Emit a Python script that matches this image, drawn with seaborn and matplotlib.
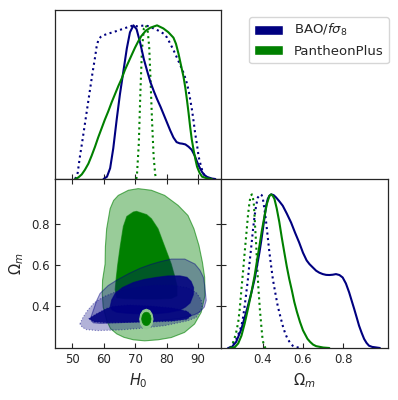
import matplotlib
matplotlib.use("Agg")
import matplotlib.pyplot as plt
from matplotlib.colors import to_rgba
from matplotlib.patches import Patch
import seaborn as sns

sns.set_style("ticks")
plt.rcParams['font.family'] = ['DejaVu Sans']
plt.rcParams['mathtext.fontset'] = 'dejavusans'

NAVY = "#000080"
GREEN = "#008000"

# ---- 1D marginals: H0 ----
bao_h0 = [60.0, 61.1, 62.1, 63.1, 64.2, 65.2, 66.3, 67.4, 68.4, 69.5, 70.5, 71.6, 72.8, 73.9, 74.9,
          76.0, 77.0, 78.1, 79.1, 80.2, 81.2, 82.2, 83.2, 84.2, 85.0, 86.0, 87.0, 88.0, 89.0, 89.7,
          90.5, 91.3, 92.1, 92.9, 94.4, 95.5]
bao_h0_p = [0.0, 0.015, 0.07, 0.2, 0.39, 0.55, 0.70, 0.85, 0.955, 1.0, 0.975, 0.89, 0.78, 0.70, 0.63,
            0.57, 0.52, 0.47, 0.42, 0.365, 0.315, 0.27, 0.24, 0.232, 0.23, 0.225, 0.21, 0.19, 0.15, 0.112,
            0.075, 0.045, 0.025, 0.013, 0.003, 0.0]

baod_h0 = [51.0, 51.8, 52.5, 53.3, 54.1, 54.9, 55.7, 56.5, 57.3, 57.8, 58.3, 59.1, 59.9, 61.5, 63.1,
           64.7, 66.3, 67.9, 69.5, 70.6, 72.0, 73.3, 74.6, 75.9, 77.5, 79.1, 80.2, 81.2, 82.2, 83.3,
           84.4, 85.5, 86.3, 87.0, 87.5, 88.1, 88.6, 89.1, 89.7, 90.2, 90.8, 91.3, 91.8, 92.3, 93.4, 94.0]
baod_h0_p = [0.0, 0.04, 0.145, 0.25, 0.36, 0.47, 0.58, 0.69, 0.79, 0.86, 0.90, 0.925, 0.935, 0.946, 0.956,
             0.967, 0.978, 0.99, 1.0, 0.994, 0.997, 1.0, 0.992, 0.98, 0.965, 0.946, 0.92, 0.88, 0.84, 0.79,
             0.74, 0.686, 0.635, 0.578, 0.52, 0.448, 0.375, 0.297, 0.22, 0.145, 0.095, 0.058, 0.03, 0.015, 0.005, 0.0]

pp_h0 = [51.0, 52.0, 53.1, 54.1, 55.2, 56.2, 57.3, 58.3, 59.4, 60.4, 61.5, 62.6, 63.7, 64.7, 65.8,
         66.8, 67.9, 69.0, 70.0, 71.0, 72.0, 73.4, 74.9, 77.0, 79.0, 80.6, 82.2, 83.0, 83.8, 84.6,
         85.4, 86.0, 86.5, 87.0, 87.5, 88.0, 88.6, 89.2, 89.7, 90.5, 91.3, 92.9, 94.4]
pp_h0_p = [0.0, 0.01, 0.03, 0.06, 0.10, 0.15, 0.21, 0.27, 0.33, 0.385, 0.44, 0.50, 0.555, 0.605, 0.655,
           0.71, 0.76, 0.81, 0.855, 0.895, 0.93, 0.965, 0.985, 1.0, 0.98, 0.955, 0.92, 0.88, 0.816, 0.74,
           0.665, 0.59, 0.513, 0.43, 0.34, 0.26, 0.188, 0.125, 0.08, 0.04, 0.015, 0.004, 0.0]

ppd_h0 = [70.4, 70.6, 71.2, 71.7, 72.2, 72.8, 73.4, 74.0, 74.5, 74.9, 75.4, 75.9, 76.4, 76.8]
ppd_h0_p = [0.0, 0.02, 0.23, 0.56, 0.84, 0.98, 1.0, 0.97, 0.86, 0.66, 0.38, 0.15, 0.03, 0.0]

# ---- 1D marginals: Omega_m ----
bao_om = [0.23, 0.247, 0.27, 0.296, 0.312, 0.328, 0.345, 0.361, 0.373, 0.385, 0.394, 0.402, 0.41, 0.418,
          0.426, 0.434, 0.443, 0.455, 0.467, 0.483, 0.50, 0.52, 0.541, 0.561, 0.581, 0.60, 0.618, 0.632,
          0.648, 0.665, 0.681, 0.698, 0.714, 0.73, 0.747, 0.763, 0.78, 0.796, 0.812, 0.828, 0.84, 0.853,
          0.865, 0.877, 0.89, 0.902, 0.914, 0.926, 0.942, 0.959, 0.98]
bao_om_p = [0.0, 0.004, 0.04, 0.124, 0.2, 0.275, 0.36, 0.449, 0.535, 0.623, 0.70, 0.774, 0.85, 0.926,
            0.97, 0.991, 1.0, 0.995, 0.98, 0.955, 0.926, 0.875, 0.817, 0.75, 0.687, 0.62, 0.57, 0.546,
            0.525, 0.503, 0.49, 0.481, 0.476, 0.475, 0.477, 0.481, 0.475, 0.459, 0.42, 0.362, 0.31, 0.254,
            0.2, 0.145, 0.098, 0.059, 0.033, 0.015, 0.007, 0.004, 0.0]

baod_om = [0.235, 0.247, 0.259, 0.271, 0.284, 0.296, 0.304, 0.312, 0.32, 0.328, 0.336, 0.345, 0.353,
           0.361, 0.369, 0.377, 0.39, 0.396, 0.402, 0.41, 0.418, 0.426, 0.434, 0.443, 0.451, 0.463,
           0.475, 0.488, 0.50, 0.512, 0.524, 0.537, 0.549, 0.561, 0.573, 0.59]
baod_om_p = [0.0, 0.01, 0.03, 0.059, 0.1, 0.145, 0.2, 0.275, 0.36, 0.449, 0.555, 0.666, 0.77, 0.86,
             0.93, 0.98, 1.0, 0.995, 0.97, 0.90, 0.818, 0.72, 0.623, 0.53, 0.449, 0.36, 0.275, 0.205,
             0.145, 0.095, 0.059, 0.033, 0.015, 0.007, 0.004, 0.0]

pp_om = [0.24, 0.263, 0.28, 0.296, 0.312, 0.328, 0.345, 0.361, 0.373, 0.385, 0.397, 0.41, 0.422, 0.434,
         0.443, 0.451, 0.459, 0.47, 0.483, 0.495, 0.508, 0.52, 0.532, 0.545, 0.557, 0.57, 0.585, 0.60,
         0.61, 0.622, 0.635, 0.65, 0.665, 0.70, 0.73]
pp_om_p = [0.0, 0.005, 0.03, 0.08, 0.16, 0.254, 0.36, 0.47, 0.57, 0.666, 0.765, 0.86, 0.94, 0.99,
           1.0, 0.99, 0.97, 0.91, 0.82, 0.72, 0.62, 0.53, 0.45, 0.375, 0.30, 0.235, 0.17, 0.115,
           0.09, 0.06, 0.04, 0.022, 0.012, 0.003, 0.0]

ppd_om = [0.24, 0.255, 0.268, 0.28, 0.288, 0.296, 0.304, 0.312, 0.32, 0.328, 0.335, 0.341, 0.348,
          0.353, 0.358, 0.363, 0.369, 0.374, 0.38, 0.387, 0.394, 0.40, 0.407, 0.415]
ppd_om_p = [0.0, 0.037, 0.09, 0.167, 0.26, 0.384, 0.5, 0.623, 0.74, 0.86, 0.94, 0.99, 1.0,
            0.975, 0.926, 0.80, 0.666, 0.52, 0.384, 0.25, 0.145, 0.06, 0.015, 0.0]

# ---- 2D contour outlines (H0, Omega_m) ----
pp_outer_h0 = [71.0, 75.2, 79.4, 83.7, 86.8, 88.7, 90.3, 91.4, 92.1, 92.2, 91.0, 88.9, 85.7, 81.5, 77.3,
               73.1, 69.5, 66.5, 64.2, 62.2, 61.0, 59.9, 59.6, 59.7, 60.5, 60.6, 61.0, 62.1, 63.2, 64.7, 67.9]
pp_outer_om = [0.973, 0.965, 0.94, 0.891, 0.842, 0.777, 0.695, 0.613, 0.54, 0.451, 0.369, 0.312, 0.271,
               0.246, 0.235, 0.23, 0.235, 0.247, 0.264, 0.29, 0.33, 0.395, 0.46, 0.526, 0.605, 0.69,
               0.777, 0.875, 0.915, 0.94, 0.965]
pp_inner_h0 = [70.5, 73.7, 75.2, 77.3, 78.9, 80.5, 81.5, 82.5, 83.3, 83.3, 81.5, 77.0, 72.0, 67.0,
               64.2, 63.7, 64.0, 64.5, 65.3, 66.3, 67.4, 69.5]
pp_inner_om = [0.862, 0.846, 0.826, 0.777, 0.711, 0.646, 0.605, 0.55, 0.50, 0.45, 0.437, 0.434, 0.434,
               0.436, 0.44, 0.48, 0.53, 0.60, 0.69, 0.788, 0.837, 0.859]

bao_outer_h0 = [56.0, 56.8, 57.8, 58.9, 61.5, 64.2, 68.0, 71.6, 75.0, 77.9, 81.5, 85.8, 89.0, 90.6,
                91.7, 92.1, 92.6, 92.0, 90.5, 88.9, 86.0, 83.7, 77.3, 71.0, 64.0, 59.0, 56.8, 56.1]
bao_outer_om = [0.345, 0.38, 0.425, 0.461, 0.50, 0.526, 0.558, 0.584, 0.603, 0.616, 0.629, 0.629,
                0.605, 0.575, 0.54, 0.502, 0.428, 0.395, 0.37, 0.358, 0.345, 0.338, 0.328, 0.323,
                0.318, 0.315, 0.318, 0.328]
bao_inner_h0 = [62.1, 62.6, 63.7, 66.0, 69.5, 73.0, 76.9, 80.5, 84.3, 86.5, 87.8, 88.6, 88.5, 87.5,
                86.0, 84.3, 80.5, 76.9, 73.0, 69.5, 66.5, 64.2, 62.8]
bao_inner_om = [0.395, 0.43, 0.461, 0.49, 0.515, 0.53, 0.54, 0.547, 0.547, 0.54, 0.52, 0.49, 0.455,
                0.415, 0.395, 0.38, 0.368, 0.363, 0.362, 0.363, 0.366, 0.37, 0.38]

baod_outer_h0 = [52.5, 53.5, 55.0, 57.0, 60.0, 64.0, 70.0, 76.0, 82.0, 86.5, 89.5, 91.0, 91.3, 91.0,
                 89.5, 86.8, 79.4, 71.0, 65.0, 58.0, 54.5, 53.2]
baod_outer_om = [0.313, 0.345, 0.38, 0.415, 0.445, 0.47, 0.49, 0.50, 0.50, 0.49, 0.465, 0.43, 0.40,
                 0.385, 0.345, 0.328, 0.304, 0.29, 0.283, 0.28, 0.285, 0.297]
baod_inner_h0 = [55.3, 57.0, 59.0, 61.0, 63.0, 68.0, 75.0, 82.0, 86.5, 88.0, 86.5, 82.0, 75.0, 68.0,
                 61.0, 57.0]
baod_inner_om = [0.338, 0.355, 0.372, 0.388, 0.398, 0.405, 0.40, 0.39, 0.375, 0.355, 0.335, 0.326,
                 0.322, 0.32, 0.318, 0.322]

ppd_outer_h0 = [75.7, 75.4, 74.65, 73.6, 72.55, 71.8, 71.5, 71.8, 72.55, 73.6, 74.65, 75.4]
ppd_outer_om = [0.336, 0.36, 0.378, 0.384, 0.378, 0.36, 0.336, 0.312, 0.294, 0.288, 0.294, 0.312]
ppd_inner_h0 = [75.1, 74.9, 74.35, 73.6, 72.85, 72.3, 72.1, 72.3, 72.85, 73.6, 74.35, 74.9]
ppd_inner_om = [0.337, 0.354, 0.366, 0.37, 0.366, 0.354, 0.337, 0.32, 0.308, 0.304, 0.308, 0.32]

h0_ticks = [50, 60, 70, 80, 90]
om_ticks = [0.4, 0.6, 0.8]
legend_labels = ["BAO/$f\\sigma_8$", "PantheonPlus"]

H0_LIM = (44.6, 97.3)
OM_LIM = (0.195, 1.02)

fig = plt.figure(figsize=(3.98, 4.0), dpi=100)
ax_h = fig.add_axes([0.1382, 0.5525, 0.4171, 0.4225])
ax_2d = fig.add_axes([0.1382, 0.13, 0.4171, 0.4225], sharex=ax_h)
ax_om = fig.add_axes([0.5553, 0.13, 0.4196, 0.4225])
ax_tk = fig.add_axes([0.5553, 0.13, 0.4196, 0.4225], sharey=ax_2d)

LW = 1.5

# top-left: H0 marginal
sns.lineplot(x=baod_h0, y=baod_h0_p, ax=ax_h, color=NAVY, lw=LW, linestyle=':')
sns.lineplot(x=ppd_h0, y=ppd_h0_p, ax=ax_h, color=GREEN, lw=LW, linestyle=':')
sns.lineplot(x=bao_h0, y=bao_h0_p, ax=ax_h, color=NAVY, lw=LW)
sns.lineplot(x=pp_h0, y=pp_h0_p, ax=ax_h, color=GREEN, lw=LW)
ax_h.set_ylim(0, 1.1)
ax_h.set_yticks([])
ax_h.tick_params(axis='x', direction='in', length=3.5, width=0.8, labelbottom=False)

# bottom-right: Omega_m marginal
sns.lineplot(x=baod_om, y=baod_om_p, ax=ax_om, color=NAVY, lw=LW, linestyle=':')
sns.lineplot(x=ppd_om, y=ppd_om_p, ax=ax_om, color=GREEN, lw=LW, linestyle=':')
sns.lineplot(x=bao_om, y=bao_om_p, ax=ax_om, color=NAVY, lw=LW)
sns.lineplot(x=pp_om, y=pp_om_p, ax=ax_om, color=GREEN, lw=LW)
ax_om.set_xlim(*OM_LIM)
ax_om.set_ylim(0, 1.1)
ax_om.set_yticks([])
ax_om.set_xticks(om_ticks)
ax_om.tick_params(axis='x', direction='in', length=3.5, width=0.8, labelsize=8.5)
ax_om.set_xlabel("$\\Omega_m$", fontsize=10.5)

# overlay axes only used to draw the Omega_m ticks on the left of the marginal
ax_tk.set_facecolor('none')
for s in ax_tk.spines.values():
    s.set_visible(False)
ax_tk.set_yticks(om_ticks)
ax_tk.tick_params(axis='y', direction='in', length=3.5, width=0.8, labelleft=False)
ax_tk.tick_params(axis='x', bottom=False, labelbottom=False)


def region(ax, xs, ys, color, alpha, ls='-', ealpha=0.6, z=1):
    ax.fill(xs, ys, facecolor=to_rgba(color, alpha), edgecolor=to_rgba(color, ealpha),
            linewidth=0.8, linestyle=ls, zorder=z)


# bottom-left: 2D contours
region(ax_2d, pp_outer_h0, pp_outer_om, GREEN, 0.4, z=1)
region(ax_2d, pp_inner_h0, pp_inner_om, GREEN, 1.0, z=2)
region(ax_2d, baod_outer_h0, baod_outer_om, NAVY, 0.3, ls=':', ealpha=0.45, z=3)
region(ax_2d, bao_outer_h0, bao_outer_om, NAVY, 0.3, ealpha=0.45, z=4)
region(ax_2d, baod_inner_h0, baod_inner_om, NAVY, 0.88, ls=':', z=5)
region(ax_2d, bao_inner_h0, bao_inner_om, NAVY, 0.88, z=6)
ax_2d.fill(ppd_outer_h0, ppd_outer_om, facecolor="#8fc98f", edgecolor="#8fc98f", lw=0.8, zorder=7)
ax_2d.fill(ppd_inner_h0, ppd_inner_om, facecolor=GREEN, edgecolor=GREEN, lw=0.5, zorder=8)

ax_2d.set_xlim(*H0_LIM)
ax_2d.set_ylim(*OM_LIM)
ax_2d.set_xticks(h0_ticks)
ax_2d.set_yticks(om_ticks)
ax_2d.tick_params(direction='in', length=3.5, width=0.8, top=True, right=True, labelsize=8.5)
ax_2d.set_xlabel("$H_0$", fontsize=10.5)
ax_2d.set_ylabel("$\\Omega_m$", fontsize=10.5)

for ax in (ax_h, ax_2d, ax_om):
    for s in ax.spines.values():
        s.set_visible(True)
        s.set_linewidth(0.9)
        s.set_color('0.15')

handles = [Patch(facecolor=NAVY, label=legend_labels[0]),
           Patch(facecolor=GREEN, label=legend_labels[1])]
fig.legend(handles=handles, loc='upper right', bbox_to_anchor=(0.977, 0.9575),
           borderaxespad=0, fontsize=9.5, handlelength=2.2, handleheight=0.8, frameon=True)

fig.savefig("out.png", dpi=100)
